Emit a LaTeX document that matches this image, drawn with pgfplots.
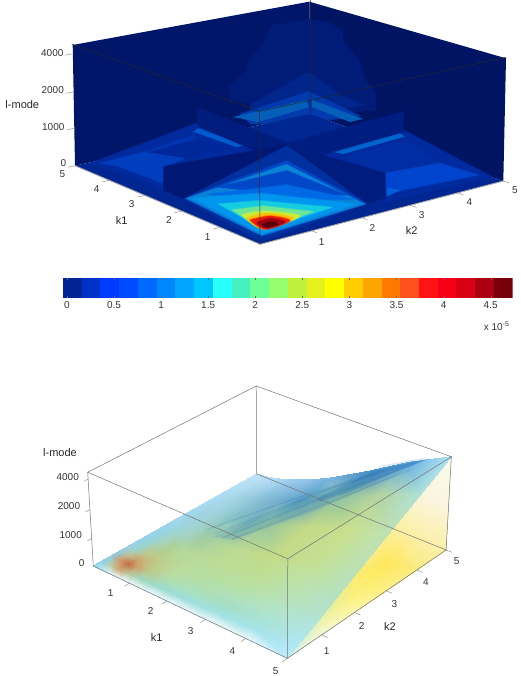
\documentclass[border=0pt]{standalone}
\usepackage{fontspec}
\setmainfont{Liberation Sans}
\usepackage{pgfplots}
\pgfplotsset{compat=1.18}

% both volumes are perspective views, so their axes are plain picture frames:
% k1 k2 z go through the projections below, z is the fraction of the box height
\pgfplotsset{pix/.style={
    hide axis, scale only axis, clip=false,
    width=520pt, height=676pt, at={(0,0)}, anchor=south west,
    xmin=0, xmax=520, ymin=0, ymax=676, y dir=reverse,
    unbounded coords=jump,
    declare function={
        topd(\a,\b,\c)=1+0.02*\a+0.016*\b-0.015*\c;
        topx(\a,\b,\c)=(260-35.5*\a+56.72*\b-4.6*\c)/topd(\a,\b,\c);
        topy(\a,\b,\c)=(244.3-12.4*\a-9.76*\b-134.5*\c)/topd(\a,\b,\c);
        botd(\a,\b,\c)=1-0.0168*\a+0.019*\b-0.03*\c;
        botx(\a,\b,\c)=(93.3+33.98*\a+37.56*\b-8.23*\c)/botd(\a,\b,\c);
        boty(\a,\b,\c)=(566+7.4*\a-9.4*\b-107.9*\c)/botd(\a,\b,\c);
    }},
}
\tikzset{
    lab/.style={font=\fontsize{10}{12}\selectfont, text=black!80, inner sep=0pt},
    nam/.style={font=\fontsize{11}{13}\selectfont, text=black!85, inner sep=0pt},
}
% the half transparent stroke softens the edge of a contour band
\newcommand\band[5][]{\addplot[fill={rgb,255:red,#2;green,#3;blue,#4},draw={rgb,255:red,#2;green,#3;blue,#4},
    draw opacity=0.45,line width=1.6pt,line join=round,#1] coordinates {#5};}
\newcommand\topline[2][]{\addplot[#1] table[row sep=\\,
    x expr={topx(\thisrow{k1},\thisrow{k2},\thisrow{z})},
    y expr={topy(\thisrow{k1},\thisrow{k2},\thisrow{z})}] {k1 k2 z\\ #2};}
\newcommand\botline[2][]{\addplot[#1] table[row sep=\\,
    x expr={botx(\thisrow{k1},\thisrow{k2},\thisrow{z})},
    y expr={boty(\thisrow{k1},\thisrow{k2},\thisrow{z})}] {k1 k2 z\\ #2};}
\newcommand\cell[5]{\addplot[fill={rgb,255:red,#3;green,#4;blue,#5},draw=none] coordinates {(#1,0)(#2,0)(#2,1)(#1,1)};}

\begin{document}
\begin{tikzpicture}
\useasboundingbox (0,0) rectangle (520pt,676pt);

% ---------- upper volume, contour slices ----------
\begin{axis}[pix]
% back walls
\band[draw=none]{0}{22}{105}{(72.7,45)(309.3,1.7)(309.6,114)(75,165.7)}
\band[draw=none]{0}{20}{100}{(309.3,1.7)(506,58.3)(503.3,181)(309.6,114)}
\band{0}{28}{120}{(228.3,86.7)(245,73.3)(248.3,61.7)(265,41.7)(271.7,25)(290,23.3)(310,19)(330,23.3)(341.7,30)(343.3,41.7)(360,61.7)(365,80)(375,91.7)(375,110)(310,115)(230,100)}
\band{0}{38}{140}{(250,105)(306.7,73.3)(310,73)(340,95)(363,105)(310,116)(250,116)}
\band{0}{58}{172}{(240,114)(308,92)(310,92)(337,105)(360,116)(310,122)(250,124)}
\band[draw=none]{5}{95}{185}{(233,117)(306,100)(309,107)(258,122)}
\band[draw=none]{5}{95}{185}{(312,100)(363,119)(350,122)(312,107)}
% floor
\band[draw=none]{0}{38}{145}{(260,244.3)(75,165.7)(309.6,114)(503.3,181)}
% quadrant k1 large
\band{0}{42}{158}{(90,163.3)(196.7,123.3)(256.7,150)(170,195)(146.7,181.7)}
\band{0}{62}{190}{(100,163.3)(145,151.7)(185,158.3)(165,166.7)(163.3,183.3)(120,166.7)}
\band{0}{52}{175}{(145,151.7)(195,134.3)(195,140)(150,152.3)}
\band{0}{40}{155}{(150,152.3)(195,140)(230,148.3)(185,158.3)}
\band[draw=none]{0}{92}{205}{(193.3,131.7)(198.3,128.3)(245,145.7)(236,147)}
% quadrant k2 large
\band{0}{42}{158}{(300,138)(403.3,130)(491.7,176.7)(386.7,201.7)(330,175)}
\band{0}{46}{162}{(343.3,156.7)(406.7,140)(440,163.3)(385,173.3)}
\band[draw=none]{0}{100}{205}{(331.7,151.7)(400,133.3)(405,136.5)(343.3,154)}
\band{0}{68}{205}{(385,173.3)(440,163.3)(478.3,175)(386.7,193.3)}
\band{0}{95}{218}{(386.7,188.3)(400,190)(386.7,196)}
% walls behind the crossing
\band{0}{30}{130}{(287,143)(403,112)(403.3,131.7)(287,165)}
\band{0}{28}{125}{(197,107)(287,143)(287,165)(197,125)}
% front quadrant
\band{0}{48}{160}{(183.3,198.3)(286.7,145)(366.7,203.3)(260,241.7)}
\band{0}{72}{200}{(286.7,160.7)(185,198.3)(261.7,236)(366.7,203.3)}
\band{10}{130}{215}{(286.7,164.3)(186.7,198.3)(261.7,235.3)(365,204)}
\band{0}{72}{200}{(216.7,187.3)(286.7,170.7)(346.7,195)(286.7,195)}
\band{0}{105}{230}{(208.3,194.3)(286.7,185)(353.3,199.3)(286.7,200)}
\band{0}{150}{240}{(191.7,198.3)(260,193.3)(356.7,204)(261.7,234)}
\band{20}{205}{225}{(218.3,204)(260,200.7)(331.7,207.3)(263.3,230)}
\band{110}{230}{150}{(231.7,210)(263.3,206)(313.3,211.7)(263.3,229.3)}
\band[smooth,tension=0.5]{200}{235}{60}{(241.7,215)(263.3,211)(300,216)(263.3,228.7)(241.7,215)}
\band[smooth,tension=0.5]{255}{190}{0}{(246.7,218.3)(266.7,213.3)(293.3,218.3)(263.3,229)(246.7,218.3)}
\band[smooth,tension=0.5]{235}{30}{10}{(250,220)(270,216)(290,220.7)(265,229.3)(250,220)}
\band[smooth,tension=0.5]{165}{0}{20}{(256.7,222.7)(270,218.3)(285,222)(266.7,228.3)(256.7,222.7)}
\band[smooth,tension=0.5]{90}{0}{10}{(261.7,225)(270,221.7)(278.3,224)(266.7,227.3)(261.7,225)}
% walls in front of the crossing
\band{0}{24}{115}{(163.3,166.7)(286.7,145)(183.3,198.3)(163.3,190)}
\band{0}{28}{125}{(286.7,145)(385,173.3)(385,198)(366.7,203.3)}
% box
\topline[black!85,line width=0.5pt]{5 0 1\\0 0 1\\0 5 1\\}
\topline[black!85,line width=0.5pt]{0 0 1\\0 0 0\\}
\topline[black!85,line width=0.5pt]{5 5 1\\5 5 0\\}
\topline[black!35,line width=0.9pt]{5 0 0\\0 0 0\\0 5 0\\}
% ticks
\topline[black!50,line width=0.4pt]{1 0 0\\1 -0.14 0\\nan nan nan\\2 0 0\\2 -0.14 0\\nan nan nan\\3 0 0\\3 -0.14 0\\nan nan nan\\4 0 0\\4 -0.14 0\\nan nan nan\\5 0 0\\5 -0.14 0\\}
\topline[black!50,line width=0.4pt]{0 1 0\\-0.14 1 0\\nan nan nan\\0 2 0\\-0.14 2 0\\nan nan nan\\0 3 0\\-0.14 3 0\\nan nan nan\\0 4 0\\-0.14 4 0\\nan nan nan\\0 5 0\\-0.14 5 0\\}
\topline[black!50,line width=0.4pt]{5 0 0.31\\5 -0.14 0.31\\nan nan nan\\5 0 0.61\\5 -0.14 0.61\\nan nan nan\\5 0 0.92\\5 -0.14 0.92\\}
\node[lab] at (axis cs:207.7,237.3) {1};
\node[lab] at (axis cs:169,220.3) {2};
\node[lab] at (axis cs:131.7,204) {3};
\node[lab] at (axis cs:96.7,189) {4};
\node[lab] at (axis cs:62.3,174.3) {5};
\node[lab] at (axis cs:321.7,241.7) {1};
\node[lab] at (axis cs:372.3,228.3) {2};
\node[lab] at (axis cs:421.7,215) {3};
\node[lab] at (axis cs:469.3,202.3) {4};
\node[lab] at (axis cs:515,190) {5};
\node[lab] at (axis cs:63.3,163.3) {0};
\node[lab] at (axis cs:53.3,127.3) {1000};
\node[lab] at (axis cs:52.7,90) {2000};
\node[lab] at (axis cs:52.3,53.3) {4000};
\node[nam] at (axis cs:22.3,104.3) {l-mode};
\node[nam] at (axis cs:121.7,220.7) {k1};
\node[nam] at (axis cs:411.7,230.7) {k2};
\end{axis}

% ---------- colour bar ----------
\begin{axis}[
    scale only axis, at={(63pt,377.7pt)}, anchor=south west,
    width=449.7pt, height=20pt,
    xmin=-0.042, xmax=4.734, ymin=0, ymax=1,
    xtick={0,0.5,1,1.5,2,2.5,3,3.5,4,4.5},
    xticklabels={0,0.5,1,1.5,2,2.5,3,3.5,4,4.5},
    ytick=\empty,
    tick align=inside, xtick pos=both, major tick length=2pt,
    tick style={black!60,line width=0.3pt},
    axis line style={draw=none},
    xticklabel style={font=\fontsize{10}{12}\selectfont, text=black!80},
    /pgf/number format/assume math mode=true,
    axis on top,
]
\cell{-0.042}{0.157}{0}{35}{150}
\cell{0.157}{0.356}{0}{50}{200}
\cell{0.356}{0.555}{0}{60}{255}
\cell{0.555}{0.754}{0}{75}{255}
\cell{0.754}{0.953}{0}{105}{255}
\cell{0.953}{1.152}{0}{135}{255}
\cell{1.152}{1.351}{0}{165}{255}
\cell{1.351}{1.55}{0}{200}{255}
\cell{1.55}{1.749}{40}{255}{255}
\cell{1.749}{1.948}{70}{240}{190}
\cell{1.948}{2.147}{110}{255}{150}
\cell{2.147}{2.346}{150}{255}{110}
\cell{2.346}{2.545}{190}{240}{60}
\cell{2.545}{2.744}{230}{240}{30}
\cell{2.744}{2.943}{255}{255}{0}
\cell{2.943}{3.142}{255}{205}{0}
\cell{3.142}{3.341}{255}{165}{0}
\cell{3.341}{3.54}{255}{120}{0}
\cell{3.54}{3.739}{255}{80}{30}
\cell{3.739}{3.938}{255}{20}{20}
\cell{3.938}{4.137}{245}{0}{20}
\cell{4.137}{4.336}{215}{0}{20}
\cell{4.336}{4.535}{170}{0}{15}
\cell{4.535}{4.734}{120}{0}{10}
\end{axis}

% ---------- lower volume, translucent rendering ----------
\begin{axis}[pix]
\node[lab] at (axis cs:496.7,326) {x 10\textsuperscript{-5}};
% yellow part on the face k1=5, rows by k2, from the floor up to the diagonal
\addplot[surf,shader=interp,mesh/rows=6,mesh/color input=explicit] table[
    x expr={botx(\thisrow{k1},\thisrow{k2},\thisrow{z})},
    y expr={boty(\thisrow{k1},\thisrow{k2},\thisrow{z})}, meta=c] {
k1 k2 z c
5 0 0 rgb255=215,240,240
5 0 0 rgb255=215,240,240
5 0 0 rgb255=215,240,240
5 1 0 rgb255=248,250,215
5 1 0.1 rgb255=240,245,185
5 1 0.2 rgb255=225,240,170
5 2 0 rgb255=252,248,170
5 2 0.2 rgb255=252,240,120
5 2 0.4 rgb255=250,235,115
5 3 0 rgb255=252,240,135
5 3 0.3 rgb255=255,232,90
5 3 0.6 rgb255=252,238,150
5 4 0 rgb255=250,235,130
5 4 0.4 rgb255=252,240,175
5 4 0.8 rgb255=250,245,220
5 5 0 rgb255=250,240,170
5 5 0.5 rgb255=250,246,225
5 5 1 rgb255=250,250,240
};
% sheet, rows by k1
\addplot[surf,shader=interp,mesh/rows=10,mesh/color input=explicit] table[
    x expr={botx(\thisrow{k1},\thisrow{k2},\thisrow{z})},
    y expr={boty(\thisrow{k1},\thisrow{k2},\thisrow{z})}, meta=c] {
k1 k2 z c
0 0 0 rgb255=150,215,235
0 0.25 0 rgb255=135,210,235
0 0.5 0 rgb255=140,205,235
0 0.75 0 rgb255=140,205,235
0 1 0 rgb255=150,210,238
0 1.5 0 rgb255=150,210,238
0 2 0 rgb255=155,212,240
0 3 0 rgb255=165,218,242
0 4 0 rgb255=175,222,246
0 5 0 rgb255=195,228,250
0.25 0 0 rgb255=190,235,245
0.25 0.25 0.0005 rgb255=185,205,165
0.25 0.5 0.001 rgb255=205,160,110
0.25 0.75 0.0015 rgb255=190,195,150
0.25 1 0.002 rgb255=155,212,200
0.25 1.5 0.003 rgb255=150,212,215
0.25 2 0.004 rgb255=155,212,222
0.25 3 0.006 rgb255=160,212,228
0.25 4 0.008 rgb255=170,218,238
0.25 5 0.01 rgb255=190,225,250
0.5 0 0 rgb255=225,245,250
0.5 0.25 0.0015 rgb255=205,160,110
0.5 0.5 0.003 rgb255=195,110,70
0.5 0.75 0.0045 rgb255=205,165,110
0.5 1 0.006 rgb255=190,200,140
0.5 1.5 0.009 rgb255=170,212,180
0.5 2 0.012 rgb255=160,212,205
0.5 3 0.018 rgb255=160,210,220
0.5 4 0.024 rgb255=160,208,228
0.5 5 0.03 rgb255=180,220,248
0.75 0 0 rgb255=230,247,252
0.75 0.25 0.003 rgb255=190,195,150
0.75 0.5 0.006 rgb255=205,165,110
0.75 0.75 0.009 rgb255=198,185,125
0.75 1 0.012 rgb255=190,200,135
0.75 1.5 0.018 rgb255=172,210,150
0.75 2 0.024 rgb255=165,210,190
0.75 3 0.036 rgb255=150,205,210
0.75 4 0.048 rgb255=150,200,222
0.75 5 0.06 rgb255=170,215,245
1 0 0 rgb255=235,248,252
1 0.25 0.005 rgb255=160,215,185
1 0.5 0.01 rgb255=190,200,140
1 0.75 0.015 rgb255=190,205,140
1 1 0.02 rgb255=188,210,145
1 1.5 0.03 rgb255=180,216,155
1 2 0.04 rgb255=160,205,165
1 3 0.06 rgb255=135,195,200
1 4 0.08 rgb255=135,190,215
1 5 0.1 rgb255=160,205,240
1.5 0 0 rgb255=235,248,252
1.5 0.25 0.009 rgb255=155,220,205
1.5 0.5 0.018 rgb255=175,220,178
1.5 0.75 0.027 rgb255=185,220,160
1.5 1 0.036 rgb255=185,220,158
1.5 1.5 0.054 rgb255=185,218,152
1.5 2 0.072 rgb255=175,212,155
1.5 3 0.108 rgb255=120,180,185
1.5 4 0.144 rgb255=115,175,208
1.5 5 0.18 rgb255=145,195,235
2 0 0 rgb255=235,248,252
2 0.25 0.014 rgb255=155,222,215
2 0.5 0.028 rgb255=170,225,188
2 0.75 0.042 rgb255=178,222,170
2 1 0.056 rgb255=182,222,160
2 1.5 0.084 rgb255=190,220,150
2 2 0.112 rgb255=188,218,145
2 3 0.168 rgb255=150,198,160
2 4 0.224 rgb255=90,160,195
2 5 0.28 rgb255=120,180,225
3 0 0 rgb255=235,248,252
3 0.25 0.026 rgb255=160,225,225
3 0.5 0.052 rgb255=165,222,195
3 0.75 0.078 rgb255=175,225,185
3 1 0.104 rgb255=182,224,165
3 1.5 0.156 rgb255=190,222,145
3 2 0.208 rgb255=195,220,135
3 3 0.312 rgb255=196,218,135
3 4 0.416 rgb255=145,195,160
3 5 0.52 rgb255=75,145,200
4 0 0 rgb255=235,248,252
4 0.25 0.039 rgb255=165,228,235
4 0.5 0.078 rgb255=168,226,215
4 0.75 0.117 rgb255=178,228,202
4 1 0.156 rgb255=182,226,188
4 1.5 0.234 rgb255=188,226,170
4 2 0.312 rgb255=195,224,150
4 3 0.468 rgb255=200,224,140
4 4 0.624 rgb255=180,212,160
4 5 0.78 rgb255=105,175,225
5 0 0 rgb255=190,235,250
5 0.25 0.05 rgb255=178,232,245
5 0.5 0.1 rgb255=175,230,235
5 0.75 0.15 rgb255=175,228,225
5 1 0.2 rgb255=178,226,210
5 1.5 0.3 rgb255=180,225,195
5 2 0.4 rgb255=185,226,185
5 3 0.6 rgb255=190,225,180
5 4 0.8 rgb255=175,225,215
5 5 1 rgb255=175,225,245
};
% darker streaks of the rising part
\band[draw=none,fill opacity=0.14]{30}{110}{180}{(213.3,536.7)(316.7,493.3)(383.3,465)(426.7,457.3)(393.3,476.7)(316.7,510)(233.3,540)}
\band[draw=none,fill opacity=0.3]{30}{110}{180}{(316.7,498.3)(376.7,470)(430,458.3)(400,470)(350,491.7)(320,501.7)}
\addplot[blue!45!teal,opacity=0.12,line width=1.2pt] coordinates {(215,534)(320,492)(418,461)};
\addplot[blue!45!teal,opacity=0.12,line width=1.2pt] coordinates {(222,538)(325,497)(425,460)};
\addplot[blue!45!teal,opacity=0.12,line width=1.2pt] coordinates {(232,539)(330,502)(410,470)};
\addplot[blue!45!teal,opacity=0.12,line width=1.2pt] coordinates {(205,530)(300,497)(385,470)};
% box
\botline[black!55,line width=0.5pt]{0 0 1\\0 5 1\\5 5 1\\}
\botline[black!55,line width=0.5pt]{0 5 1\\0 5 0\\5 5 0\\}
\botline[black!55,line width=0.5pt]{0 0 0\\0 0 1\\5 0 1\\5 5 1\\5 5 0\\5 0 0\\0 0 0\\}
\botline[black!55,line width=0.5pt]{5 0 1\\5 0 0\\}
% ticks
\botline[black!50,line width=0.4pt]{1 0 0\\1 -0.14 0\\nan nan nan\\2 0 0\\2 -0.14 0\\nan nan nan\\3 0 0\\3 -0.14 0\\nan nan nan\\4 0 0\\4 -0.14 0\\nan nan nan\\5 0 0\\5 -0.14 0\\}
\botline[black!50,line width=0.4pt]{5 1 0\\5.14 1 0\\nan nan nan\\5 2 0\\5.14 2 0\\nan nan nan\\5 3 0\\5.14 3 0\\nan nan nan\\5 4 0\\5.14 4 0\\nan nan nan\\5 5 0\\5.14 5 0\\}
\botline[black!50,line width=0.4pt]{0 0 0.30\\0 -0.12 0.30\\nan nan nan\\0 0 0.61\\0 -0.12 0.61\\nan nan nan\\0 0 0.93\\0 -0.12 0.93\\}
\node[lab] at (axis cs:110.7,592.7) {1};
\node[lab] at (axis cs:150.7,610.7) {2};
\node[lab] at (axis cs:190.7,630.7) {3};
\node[lab] at (axis cs:232.3,650.7) {4};
\node[lab] at (axis cs:275.7,671) {5};
\node[lab] at (axis cs:326.7,650.7) {1};
\node[lab] at (axis cs:361.7,626) {2};
\node[lab] at (axis cs:394.3,604) {3};
\node[lab] at (axis cs:426,581.7) {4};
\node[lab] at (axis cs:456.7,560.7) {5};
\node[lab] at (axis cs:81.7,563.3) {0};
\node[lab] at (axis cs:70.7,535) {1000};
\node[lab] at (axis cs:69,506) {2000};
\node[lab] at (axis cs:67.7,477.3) {4000};
\node[nam] at (axis cs:60,452.3) {l-mode};
\node[nam] at (axis cs:156.7,637.3) {k1};
\node[nam] at (axis cs:390,626.7) {k2};
\end{axis}
\end{tikzpicture}
\end{document}
